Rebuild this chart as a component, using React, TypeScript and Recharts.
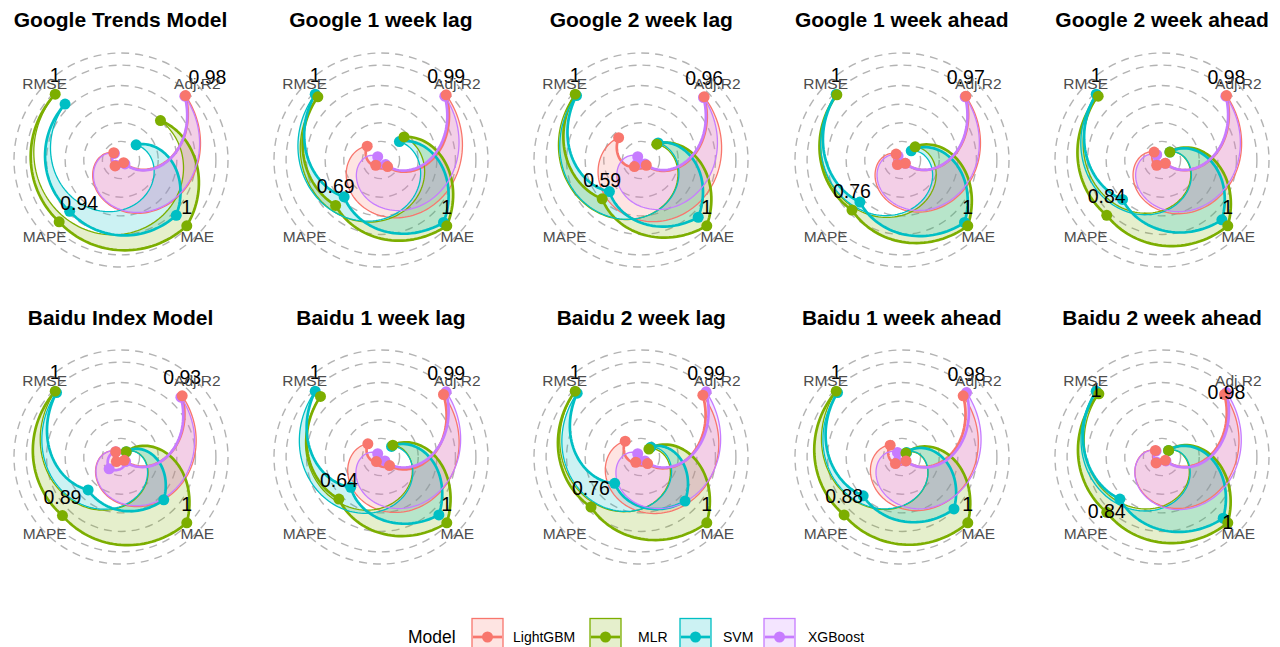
import React from 'react';
import { RadarChart, Radar, PolarGrid, PolarAngleAxis, PolarRadiusAxis } from 'recharts';

// ---------------- data ----------------
const panelTitles = [
  'Google Trends Model', 'Google 1 week lag', 'Google 2 week lag', 'Google 1 week ahead', 'Google 2 week ahead',
  'Baidu Index Model', 'Baidu 1 week lag', 'Baidu 2 week lag', 'Baidu 1 week ahead', 'Baidu 2 week ahead',
];
const metrics = ['Adj.R2', 'MAE', 'MAPE', 'RMSE'];
const models = ['LightGBM', 'MLR', 'SVM', 'XGBoost'];

// per panel: [Adj.R2, MAE, MAPE, RMSE] (normalised)
const lightgbmValues = [
  [0.98, 0.04, 0.09, 0.11],
  [0.99, 0.10, 0.08, 0.21],
  [0.96, 0.08, 0.10, 0.34],
  [0.97, 0.05, 0.07, 0.09],
  [0.98, 0.05, 0.08, 0.12],
  [0.93, 0.05, 0.07, 0.08],
  [0.95, 0.13, 0.07, 0.20],
  [0.94, 0.10, 0.08, 0.24],
  [0.93, 0.06, 0.10, 0.18],
  [0.95, 0.05, 0.09, 0.10],
];
const mlrValues = [
  [0.60, 1.00, 0.94, 1.00],
  [0.35, 1.00, 0.69, 0.96],
  [0.24, 1.00, 0.59, 1.00],
  [0.20, 1.00, 0.76, 0.99],
  [0.12, 1.00, 0.84, 0.97],
  [0.08, 1.00, 0.89, 1.00],
  [0.18, 1.00, 0.64, 0.92],
  [0.12, 1.00, 0.76, 1.00],
  [0.06, 1.00, 0.88, 1.00],
  [0.10, 1.00, 0.84, 0.96],
];
const svmValues = [
  [0.23, 0.84, 0.78, 0.85],
  [0.28, 0.95, 0.56, 1.00],
  [0.26, 0.87, 0.48, 0.98],
  [0.14, 0.95, 0.64, 1.00],
  [0.12, 0.91, 0.60, 1.00],
  [0.08, 0.65, 0.50, 0.98],
  [0.16, 0.88, 0.46, 1.00],
  [0.15, 0.67, 0.40, 0.97],
  [0.07, 0.79, 0.59, 0.98],
  [0.10, 0.93, 0.64, 1.00],
];
const xgboostValues = [
  [0.97, 0.06, 0.08, 0.10],
  [0.97, 0.07, 0.07, 0.05],
  [0.95, 0.06, 0.07, 0.05],
  [0.96, 0.05, 0.06, 0.06],
  [0.97, 0.05, 0.07, 0.08],
  [0.91, 0.07, 0.18, 0.08],
  [0.99, 0.06, 0.06, 0.05],
  [0.99, 0.06, 0.06, 0.05],
  [0.98, 0.06, 0.07, 0.07],
  [0.98, 0.06, 0.08, 0.09],
];
const radiusTicks = [0.2, 0.4, 0.6, 0.8, 1.02, 1.15];
const radiusDomain = [0, 1.15];

// ---------------- style ----------------
const FONT = '"Liberation Sans", Arial, Helvetica, sans-serif';
const COLORS: Record<string, string> = {
  LightGBM: '#F8766D',
  MLR: '#7CAE00',
  SVM: '#00BFC4',
  XGBoost: '#C77CFF',
};
const seriesByModel: Record<string, number[][]> = {
  LightGBM: lightgbmValues,
  MLR: mlrValues,
  SVM: svmValues,
  XGBoost: xgboostValues,
};
const CHART = 260;
const OUTER = 107;
const colCenters = [120.5, 380.9, 641.3, 901.7, 1162.1];
const rowCenters = [159.5, 457];
const titleTops = [9, 307];
// label nudges (ggrepel-like shifts in the reference)
const labelNudge: Record<number, Record<string, number>> = { 0: { 'Adj.R2': 22, MAPE: 20 } };
const labelBelowPanels = [9];

function buildRows(p: number) {
  return metrics.map((m, i) => {
    const row: any = { metric: m };
    models.forEach((k) => { row[k] = seriesByModel[k][p][i]; });
    row.Max = Math.max(...models.map((k) => row[k]));
    return row;
  });
}

const RAD = Math.PI / 180;
function seg(a: any, b: any, n: number, skipFirst: boolean) {
  const out: number[][] = [];
  for (let s = skipFirst ? 1 : 0; s <= n; s++) {
    const t = s / n;
    const ang = a.angle + (b.angle - a.angle) * t;
    const r = a.radius + (b.radius - a.radius) * t;
    out.push([a.cx + r * Math.cos(-ang * RAD), a.cy + r * Math.sin(-ang * RAD)]);
  }
  return out;
}
function toD(pts: number[][]) {
  return 'M' + pts.map((p) => p[0].toFixed(2) + ',' + p[1].toFixed(2)).join('L');
}
function openPts(points: any[]) {
  let out: number[][] = [];
  for (let i = 0; i < points.length - 1; i++) {
    out = out.concat(seg(points[i], points[i + 1], 36, i > 0));
  }
  return out;
}
function closePts(points: any[], skipFirst: boolean) {
  return seg(points[points.length - 1], points[0], 108, skipFirst);
}

const fillShape = (color: string) => (props: any) => {
  const pts = props.points;
  if (!pts || pts.length < 2) return <g />;
  const d = toD([...openPts(pts), ...closePts(pts, true)]) + 'Z';
  return <path d={d} fill={color} fillOpacity={0.2} stroke="none" />;
};
const lineShape = (color: string) => (props: any) => {
  const pts = props.points;
  if (!pts || pts.length < 2) return <g />;
  return (
    <g>
      <path d={toD(closePts(pts, false))} fill="none" stroke={color} strokeWidth={1.3} />
      <path d={toD(openPts(pts))} fill="none" stroke={color} strokeWidth={2.7} strokeLinejoin="round" />
    </g>
  );
};
const dotShape = (color: string) => (props: any) => {
  const pts = props.points || [];
  return (
    <g>
      {pts.map((p: any, i: number) => (
        <circle key={i} cx={p.x} cy={p.y} r={5.5} fill={color} />
      ))}
    </g>
  );
};
const fmt = (v: number) => String(Number(v.toFixed(2)));
const labelShape = (panel: number) => (props: any) => {
  const pts = props.points || [];
  const below = labelBelowPanels.includes(panel);
  return (
    <g>
      {pts.map((p: any, i: number) => {
        const nudge = (labelNudge[panel] && labelNudge[panel][p.payload.metric]) || 0;
        return (
          <text key={i} x={p.x + nudge} y={below ? p.y + 6 : p.y - 12} textAnchor="middle"
            fontSize={19.5} fontFamily={FONT} fill="#000">
            {fmt(p.value)}
          </text>
        );
      })}
    </g>
  );
};

const AxisTick = (props: any) => (
  <text x={props.x} y={props.y} textAnchor="middle" dominantBaseline="central"
    fontSize={15.5} fontFamily={FONT} fill="#4D4D4D">
    {props.payload.value}
  </text>
);

function Panel({ p }: { p: number }) {
  const col = p % 5;
  const row = Math.floor(p / 5);
  const cx = colCenters[col];
  const cy = rowCenters[row];
  const data = buildRows(p);
  const pointOrder = [...models].reverse();
  return (
    <>
      <div style={{
        position: 'absolute', left: cx - 140, width: 280, top: titleTops[row], textAlign: 'center',
        fontFamily: FONT, fontWeight: 'bold', fontSize: 21, lineHeight: '21px', color: '#000', whiteSpace: 'nowrap',
      }}>{panelTitles[p]}</div>
      <div style={{ position: 'absolute', left: cx - CHART / 2, top: cy - CHART / 2 }}>
        <RadarChart width={CHART} height={CHART} data={data} cx={CHART / 2} cy={CHART / 2}
          outerRadius={OUTER} startAngle={45} endAngle={-315} margin={{ top: 0, right: 0, bottom: 0, left: 0 }}>
          <PolarGrid gridType="circle" radialLines={false} stroke="#B3B3B3" strokeWidth={1.4} strokeDasharray="8 6" />
          <PolarAngleAxis dataKey="metric" tick={<AxisTick />} tickLine={false} axisLine={false} tickSize={1} />
          <PolarRadiusAxis domain={radiusDomain} ticks={radiusTicks as any} tick={false} axisLine={false} />
          {models.map((m) => (
            <Radar key={'f' + m} dataKey={m} shape={fillShape(COLORS[m])} isAnimationActive={false} legendType="none" />
          ))}
          {models.map((m) => (
            <Radar key={'l' + m} dataKey={m} shape={lineShape(COLORS[m])} isAnimationActive={false} legendType="none" />
          ))}
          {pointOrder.map((m) => (
            <Radar key={'d' + m} dataKey={m} shape={dotShape(COLORS[m])} isAnimationActive={false} legendType="none" />
          ))}
          <Radar dataKey="Max" shape={labelShape(p)} isAnimationActive={false} legendType="none" />
        </RadarChart>
      </div>
    </>
  );
}

const legendBoxX = [472, 590, 680, 764];
const legendLabelX = [513, 638, 723, 808];

function LegendBar() {
  const cy = 32;
  return (
    <svg width={1280} height={42} style={{ position: 'absolute', left: 0, top: 605 }}>
      <text x={408} y={cy} dominantBaseline="central" fontSize={17.5} fontFamily={FONT} fill="#000">Model</text>
      {models.map((m, i) => (
        <g key={m}>
          <rect x={legendBoxX[i]} y={13.5} width={31} height={38} fill={COLORS[m]} fillOpacity={0.2}
            stroke={COLORS[m]} strokeWidth={1.3} />
          <line x1={legendBoxX[i] + 1} x2={legendBoxX[i] + 30} y1={cy} y2={cy} stroke={COLORS[m]} strokeWidth={2.7} />
          <circle cx={legendBoxX[i] + 15.5} cy={cy} r={5.5} fill={COLORS[m]} />
          <text x={legendLabelX[i]} y={cy} dominantBaseline="central" fontSize={14} fontFamily={FONT} fill="#000">{m}</text>
        </g>
      ))}
    </svg>
  );
}

export default function App() {
  return (
    <div style={{ position: 'fixed', left: 0, top: 0, width: 1280, height: 647, background: '#fff', overflow: 'hidden' }}>
      {panelTitles.map((_, p) => <Panel key={p} p={p} />)}
      <LegendBar />
    </div>
  );
}
